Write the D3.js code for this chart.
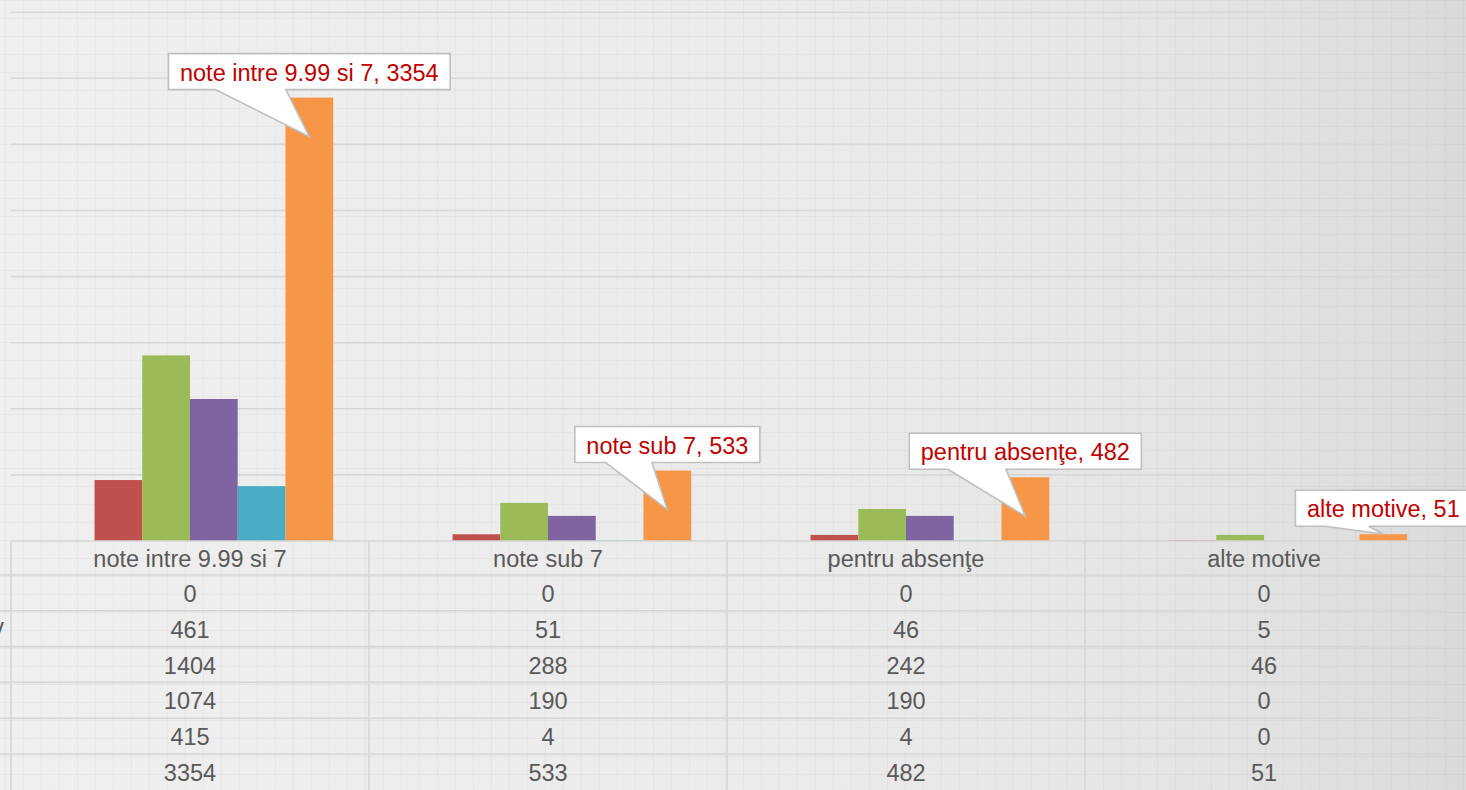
<!DOCTYPE html>
<html>
<head>
<meta charset="utf-8">
<script src="https://cdn.jsdelivr.net/npm/d3@7"></script>
<style>
    html, body { margin: 0; padding: 0; overflow: hidden; background: #eeeeee; }
    svg { display: block; font-family: "Liberation Sans", Arial, sans-serif; }
</style>
</head>
<body>
<svg id="chart" width="1466" height="790"></svg>
<script>
// categories and series
var categories = ["note intre 9.99 si 7", "note sub 7", "pentru absenţe", "alte motive"];
var seriesA = [0, 0, 0, 0];
var seriesB = [461, 51, 46, 5];
var seriesC = [1404, 288, 242, 46];
var seriesD = [1074, 190, 190, 0];
var seriesE = [415, 4, 4, 0];
var seriesF = [3354, 533, 482, 51];
var yTicks = [0, 500, 1000, 1500, 2000, 2500, 3000, 3500, 4000];
// end of the legend labels that is cut by the left edge
var rowLabelTails = ["", "v", "", "", "", ""];

var series = [seriesA, seriesB, seriesC, seriesD, seriesE, seriesF];
var colors = ["#4F81BD", "#C0504D", "#9BBB59", "#8064A2", "#4BACC6", "#F79646"];
var labelled = 5; // only the last series has callouts

var W = 1466, H = 790;
var plotLeft = 11, plotRight = 1443, plotBase = 541, plotTop = 12.2;
var headH = 34, rowH = 35.8;

var svg = d3.select("#chart");
var defs = svg.append("defs");

var grad = defs.append("linearGradient").attr("id", "bg").attr("x1", 0).attr("x2", 1).attr("y1", 0).attr("y2", 0);
grad.append("stop").attr("offset", "0%").attr("stop-color", "#efefef");
grad.append("stop").attr("offset", "55%").attr("stop-color", "#ebebeb");
grad.append("stop").attr("offset", "85%").attr("stop-color", "#e3e3e3");
grad.append("stop").attr("offset", "100%").attr("stop-color", "#dadada");

var pat = defs.append("pattern").attr("id", "paper").attr("patternUnits", "userSpaceOnUse")
    .attr("width", 18).attr("height", 18).attr("x", 5).attr("y", 0);
pat.append("line").attr("x1", 0).attr("x2", 0).attr("y1", 0).attr("y2", 18)
    .attr("stroke", "rgba(0,0,0,0.03)").attr("stroke-width", 2);
pat.append("line").attr("x1", 0).attr("x2", 18).attr("y1", 0).attr("y2", 0)
    .attr("stroke", "rgba(0,0,0,0.03)").attr("stroke-width", 2);

svg.append("rect").attr("width", W).attr("height", H).attr("fill", "url(#bg)");
svg.append("rect").attr("width", W).attr("height", H).attr("fill", "url(#paper)");

var x = d3.scaleBand().domain(categories).range([plotLeft, plotRight]).padding(0);
var xs = d3.scaleBand().domain(d3.range(series.length)).range([0, x.bandwidth()])
    .paddingInner(0).paddingOuter(0.75);
var y = d3.scaleLinear().domain([0, 4000]).range([plotBase, plotTop]);

// horizontal gridlines
svg.append("g").selectAll("line")
    .data(yTicks.filter(function(t) { return t > 0; }))
    .enter().append("line")
        .attr("x1", plotLeft).attr("x2", plotRight - 1)
        .attr("y1", function(d) { return y(d); })
        .attr("y2", function(d) { return y(d); })
        .attr("stroke", "#d8d8d8").attr("stroke-width", 1.6);

// bars
svg.append("g").selectAll("g")
    .data(series)
    .enter().append("g")
        .attr("fill", function(_, i) { return colors[i]; })
        .each(function(vals, si) {
            d3.select(this).selectAll("rect")
                .data(vals)
                .enter().append("rect")
                    .attr("x", function(_, ci) { return x(categories[ci]) + xs(si); })
                    .attr("width", xs.bandwidth())
                    .attr("y", function(d) { return y(d); })
                    .attr("height", function(d) { return plotBase - y(d); });
        });

// data table
var rowY = function(i) { return plotBase + headH + i * rowH; };
var tbl = svg.append("g").attr("stroke", "#d6d6d6").attr("stroke-width", 1.6);
tbl.append("line").attr("x1", plotLeft).attr("x2", plotRight - 1).attr("y1", plotBase).attr("y2", plotBase);
tbl.selectAll(".rowline")
    .data(d3.range(series.length))
    .enter().append("line").attr("class", "rowline")
        .attr("x1", 0).attr("x2", plotRight - 1)
        .attr("y1", function(i) { return rowY(i); })
        .attr("y2", function(i) { return rowY(i); });
tbl.selectAll(".colline")
    .data(categories)
    .enter().append("line").attr("class", "colline")
        .attr("x1", function(d) { return x(d); })
        .attr("x2", function(d) { return x(d); })
        .attr("y1", plotBase).attr("y2", H);

var txt = svg.append("g").attr("fill", "#595959").attr("font-size", 23.5)
    .attr("text-anchor", "middle").attr("dominant-baseline", "central");
txt.selectAll(".head")
    .data(categories)
    .enter().append("text").attr("class", "head")
        .attr("x", function(d) { return x(d) + x.bandwidth() / 2; })
        .attr("y", plotBase + headH / 2 + 1)
        .text(function(d) { return d; });
series.forEach(function(vals, si) {
    txt.selectAll(".v" + si)
        .data(vals)
        .enter().append("text").attr("class", "v" + si)
            .attr("x", function(_, ci) { return x(categories[ci]) + x.bandwidth() / 2; })
            .attr("y", rowY(si) + rowH / 2 + 1)
            .text(function(d) { return d; });
});
txt.selectAll(".tail")
    .data(rowLabelTails)
    .enter().append("text").attr("class", "tail")
        .attr("text-anchor", "end")
        .attr("x", 4)
        .attr("y", function(_, i) { return rowY(i) + rowH / 2 - 2; })
        .text(function(d) { return d; });

// callouts on the last series
var cg = svg.append("g");
seriesF.forEach(function(v, ci) {
    var label = categories[ci] + ", " + v;
    var cx = x(categories[ci]) + xs(labelled) + xs.bandwidth() / 2;
    var barTop = y(v);
    var g = cg.append("g");
    var t = g.append("text")
        .attr("x", cx).attr("y", barTop - 8 - 18 + 1)
        .attr("text-anchor", "middle").attr("dominant-baseline", "central")
        .attr("font-size", 23.5).attr("fill", "#c00000")
        .text(label);
    var w = t.node().getComputedTextLength() + 23;
    var bx = cx - w / 2, by = barTop - 8 - 36;
    var tipY = Math.min(barTop + 39, plotBase - 7);
    var bl = cx - w / 3, br = cx - w / 12;
    var path = [
        [bx, by], [bx + w, by], [bx + w, by + 36], [br, by + 36],
        [cx, tipY], [bl, by + 36], [bx, by + 36]
    ];
    g.insert("path", "text")
        .attr("d", d3.line()(path) + "Z")
        .attr("fill", "#ffffff")
        .attr("stroke", "#bfbfbf").attr("stroke-width", 1.6)
        .attr("stroke-linejoin", "miter");
});
</script>
</body>
</html>
